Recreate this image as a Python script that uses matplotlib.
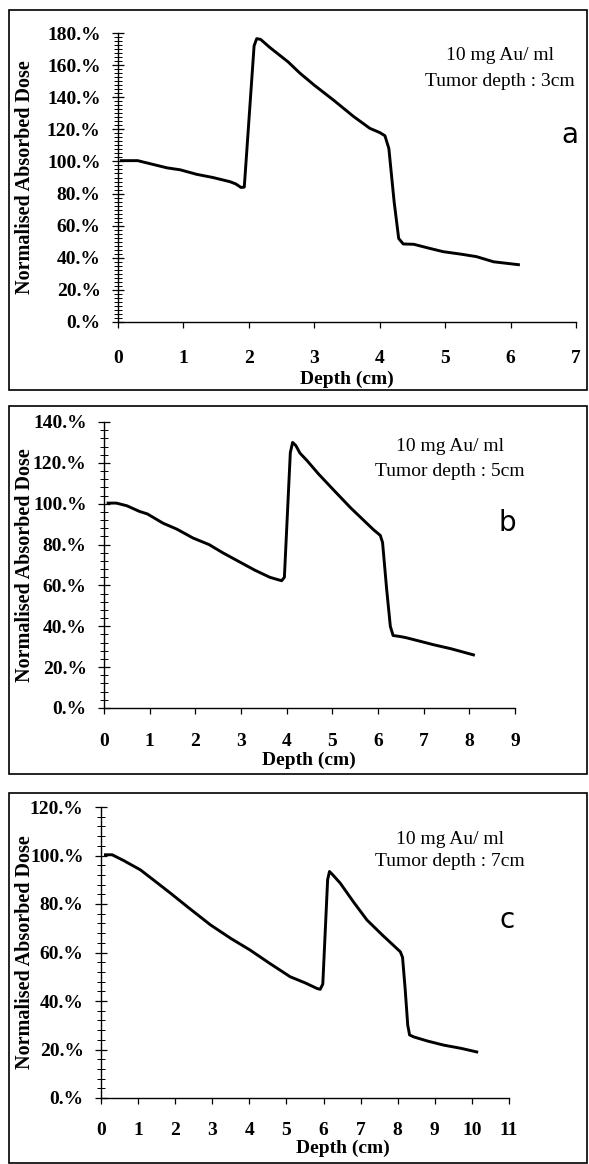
import matplotlib
matplotlib.use('Agg')
import matplotlib.pyplot as plt
from matplotlib.ticker import MultipleLocator, FuncFormatter
from matplotlib.patches import Rectangle

plt.rcParams['font.family'] = ['Liberation Serif', 'DejaVu Serif']

# Panel a: tumor depth 3 cm
depth_a = [0.05, 0.3, 0.5, 0.75, 0.95, 1.2, 1.45, 1.71, 1.8, 1.88, 1.93, 2.08, 2.12, 2.18,
           2.32, 2.6, 2.78, 3.0, 3.3, 3.6, 3.85, 4.0, 4.08, 4.14, 4.22, 4.29, 4.36, 4.52,
           4.75, 4.97, 5.25, 5.48, 5.74, 6.12]
dose_a = [100.5, 100.5, 98.5, 96, 94.8, 92, 90, 87.4, 86, 83.8, 84, 172, 176.5, 176,
          171, 162, 155, 147.5, 138, 128, 120.6, 118, 116, 108, 75, 52, 48.6, 48.4,
          46, 43.8, 42.2, 40.7, 37.5, 35.7]

# Panel b: tumor depth 5 cm
depth_b = [0.09, 0.27, 0.5, 0.78, 0.95, 1.29, 1.6, 1.95, 2.3, 2.6, 2.97, 3.3, 3.63, 3.78,
           3.89, 3.95, 4.08, 4.13, 4.2, 4.29, 4.45, 4.7, 5.02, 5.4, 5.9, 6.05, 6.1, 6.19,
           6.27, 6.33, 6.48, 6.6, 6.9, 7.21, 7.6, 8.09]
dose_b = [100.3, 100.3, 99, 96.2, 95, 90.5, 87.5, 83.2, 80, 76, 71.5, 67.5, 64, 63,
          62.3, 64, 125, 130, 128.5, 124.8, 121, 114.5, 106.9, 98, 87.3, 84.5, 81, 58,
          40, 35.5, 35, 34.5, 32.8, 31, 29, 26]

# Panel c: tumor depth 7 cm
depth_c = [0.12, 0.3, 0.6, 1.06, 1.45, 1.87, 2.4, 2.95, 3.5, 4.02, 4.55, 5.1, 5.5, 5.82,
           5.91, 5.98, 6.11, 6.16, 6.25, 6.45, 6.8, 7.17, 7.6, 8.07, 8.13, 8.2, 8.27,
           8.32, 8.43, 8.8, 9.24, 9.7, 10.13]
dose_c = [100.3, 100.3, 98, 94.1, 89.5, 84.5, 78, 71.4, 65.8, 61, 55.5, 50, 47.5, 45.2,
          44.8, 47, 90, 93.4, 92, 88.6, 81, 73.4, 67, 60.3, 58, 45, 30,
          26, 25.2, 23.5, 21.8, 20.5, 19]

W, H = 589, 1164
fig = plt.figure(figsize=(W / 100, H / 100), dpi=100)
fig.patch.set_facecolor('white')


def px_axes(left, right, top, bottom):
    return fig.add_axes([left / W, 1 - bottom / H, (right - left) / W, (bottom - top) / H])


panels = [
    # x, y, xmax, ymax, minor step, axes box (px), frame (px), tumor, letter,
    # tick label y, xlabel (x, y), text rows y, text x, letter (x, y) -- all px
    (depth_a, dose_a, 7, 180, 2.5, (118, 576, 33, 322), (9, 10, 587, 390), '3cm', 'a',
     355, (347, 379), (55, 81), 500, (570, 135)),
    (depth_b, dose_b, 9, 140, 4, (104, 515, 422, 708), (9, 406, 587, 774), '5cm', 'b',
     738, (309, 760), (447, 472), 450, (507, 523)),
    (depth_c, dose_c, 11, 120, 4, (101, 509, 807, 1098), (9, 793, 587, 1163), '7cm', 'c',
     1127, (343, 1148), (840, 861), 450, (507, 920)),
]

for x, y, xmax, ymax, minor, box, frame, tumor, letter, tly, xl, rows, tx, lp in panels:
    left, right, top, bottom = box

    def fy(py):
        return (bottom - py) / (bottom - top)

    def fx(px):
        return (px - left) / (right - left)

    ax = px_axes(*box)
    ax.plot(x, y, color='black', lw=2.1, solid_joinstyle='round')
    ax.set_xlim(0, xmax)
    ax.set_ylim(0, ymax)
    ax.set_facecolor('none')
    for s in ['top', 'right']:
        ax.spines[s].set_visible(False)
    for s in ['left', 'bottom']:
        ax.spines[s].set_linewidth(1.0)
    ax.xaxis.set_major_locator(MultipleLocator(1))
    ax.yaxis.set_major_locator(MultipleLocator(20))
    ax.yaxis.set_minor_locator(MultipleLocator(minor))
    ax.yaxis.set_major_formatter(FuncFormatter(lambda v, p: f"{v:.0f}.%"))
    ax.tick_params(axis='y', which='major', direction='inout', length=8, width=0.9,
                   labelsize=14, pad=8.5)
    ax.tick_params(axis='y', which='minor', direction='inout', length=6, width=0.7)
    ax.tick_params(axis='x', which='major', direction='out', length=4, width=0.9,
                   labelsize=14, pad=(tly - bottom - 4 - 7) * 0.72)
    for lab in ax.get_xticklabels() + ax.get_yticklabels():
        lab.set_fontweight('bold')
    ax.set_ylabel('Normalised Absorbed Dose', fontsize=14.5, fontweight='bold')
    ax.yaxis.set_label_coords(fx(35), 0.5)
    ax.set_xlabel('Depth (cm)', fontsize=14, fontweight='bold', va='center')
    ax.xaxis.set_label_coords(fx(xl[0]), fy(xl[1]))

    ax.text(fx(tx), fy(rows[0]), '10 mg Au/ ml', transform=ax.transAxes,
            ha='center', va='center', fontsize=14)
    ax.text(fx(tx), fy(rows[1]), 'Tumor depth : ' + tumor,
            transform=ax.transAxes, ha='center', va='center', fontsize=14)
    ax.text(fx(lp[0]), fy(lp[1]), letter, transform=ax.transAxes,
            ha='center', va='center', fontsize=20, family='DejaVu Sans', clip_on=False)

    fl, ft, fr, fb = frame
    fig.add_artist(Rectangle((fl / W, 1 - fb / H), (fr - fl) / W, (fb - ft) / H,
                             transform=fig.transFigure, fill=False, edgecolor='black', lw=1.2))

fig.savefig('out.png', dpi=100, facecolor='white')
